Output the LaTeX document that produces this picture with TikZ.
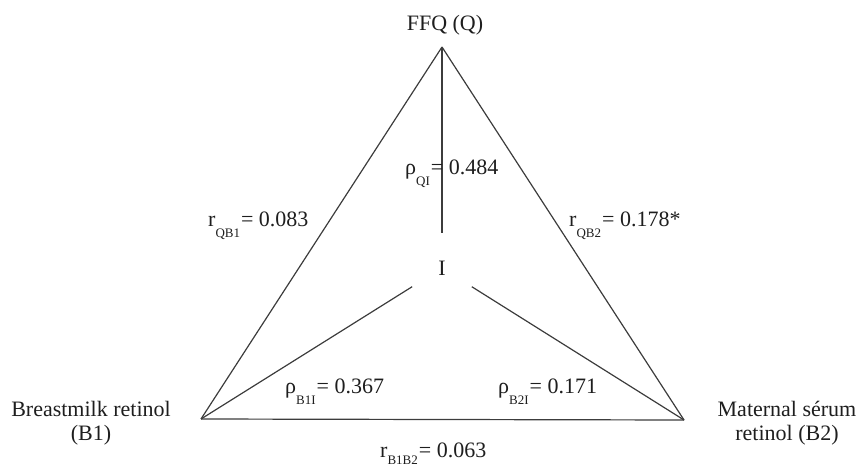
\documentclass[tikz,border=0pt]{standalone}
\usepackage{fontspec}
\setmainfont{Liberation Serif}
\newcommand\lsub[2][-11pt]{\raisebox{#1}{\fontsize{13}{13}\selectfont #2}}
\definecolor{linec}{RGB}{60,60,60}
\definecolor{textc}{RGB}{30,30,30}
\begin{document}
\begin{tikzpicture}[x=1pt,y=-1pt,
  edge/.style={draw=linec, line width=1.2pt},
  lbl/.style={inner sep=0pt, text=textc, font=\fontsize{22}{24}\selectfont},
  vlbl/.style={lbl, align=center, anchor=base}]
\useasboundingbox (0,0) rectangle (859,470);
% vertices
\coordinate (Q) at (442,47);
\coordinate (B1) at (201,419);
\coordinate (B2) at (684,420);
\node[lbl, circle, minimum size=70pt] (I) at (442,268) {I};
% vertex labels
\node[lbl, anchor=base] (lq) at (445,31) {FFQ (Q)};
\node[vlbl] (lb1) at (91,440) {Breastmilk retinol\\(B1)};
\node[vlbl] (lb2) at (787,440) {Maternal sérum\\retinol (B2)};
% connectors
\draw[edge] (Q) -- (B1);
\draw[edge] (Q) -- (B2);
\draw[edge] (B1) -- (B2);
\draw[edge] (Q) -- (I);
\draw[edge] (B1) -- (I);
\draw[edge] (B2) -- (I);
% correlation labels
\node[lbl, anchor=base west] (cqi) at (405,175) {ρ\lsub{QI}\kern1pt= 0.484};
\node[lbl, anchor=base west] (cqb1) at (208,227) {r\lsub{QB1}\kern1pt= 0.083};
\node[lbl, anchor=base west] (cqb2) at (569,227) {r\lsub{QB2}\kern1pt= 0.178*};
\node[lbl, anchor=base west] (cb1i) at (285,393) {ρ\lsub{B1I}\kern1pt= 0.367};
\node[lbl, anchor=base west] (cb2i) at (498,393) {ρ\lsub{B2I}\kern1pt= 0.171};
\node[lbl, anchor=base west] (cb1b2) at (380,457) {r\lsub[-7pt]{B1B2}\kern1pt= 0.063};
\end{tikzpicture}
\end{document}
